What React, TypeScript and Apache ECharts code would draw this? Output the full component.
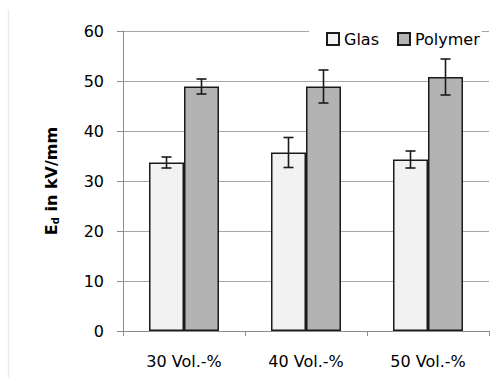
import React, { useEffect, useRef } from "react";
import * as echarts from "echarts";

const categories = ["30 Vol.-%", "40 Vol.-%", "50 Vol.-%"];
const seriesNames = ["Glas", "Polymer"];
const glasValues = [33.7, 35.7, 34.3];
const glasErrors = [1.1, 3.0, 1.7];
const polymerValues = [48.9, 48.9, 50.8];
const polymerErrors = [1.5, 3.3, 3.6];
const yTicks = [0, 10, 20, 30, 40, 50, 60];

const FONT = "'DejaVu Sans', sans-serif";
const BAR_W = 35;

function errorSeries(values: number[], errors: number[], offset: number) {
  return {
    type: "custom",
    silent: true,
    z: 10,
    data: values.map((v, i) => [i, v - errors[i], v + errors[i]]),
    renderItem: (params: any, api: any) => {
      const x = api.value(0);
      const lo = api.coord([x, api.value(1)]);
      const hi = api.coord([x, api.value(2)]);
      const cx = lo[0] + offset;
      const hw = 5;
      const style = { stroke: "#1a1a1a", lineWidth: 1.6 };
      return {
        type: "group",
        children: [
          { type: "line", shape: { x1: cx, y1: lo[1], x2: cx, y2: hi[1] }, style },
          { type: "line", shape: { x1: cx - hw, y1: lo[1], x2: cx + hw, y2: lo[1] }, style },
          { type: "line", shape: { x1: cx - hw, y1: hi[1], x2: cx + hw, y2: hi[1] }, style },
        ],
      };
    },
  };
}

export default function App() {
  const ref = useRef<HTMLDivElement>(null);
  useEffect(() => {
    if (!ref.current) return;
    const chart = echarts.init(ref.current, undefined, { renderer: "svg" });
    chart.setOption({
      animation: false,
      backgroundColor: "#ffffff",
      textStyle: { fontFamily: FONT },
      grid: { left: 123, right: 1, top: 31, bottom: 47 },
      legend: {
        data: seriesNames,
        left: 309,
        top: 28,
        padding: [3, 2, 3, 17],
        backgroundColor: "#ffffff",
        itemWidth: 12,
        itemHeight: 12,
        itemGap: 18,
        icon: "rect",
        textStyle: { fontSize: 16, color: "#000", fontFamily: FONT, padding: [0, 0, 0, 0] },
        z: 20,
      },
      xAxis: {
        type: "category",
        data: categories,
        axisLine: { lineStyle: { color: "#8c8c8c", width: 1 } },
        axisTick: { show: true, alignWithLabel: false, length: 5, lineStyle: { color: "#8c8c8c" } },
        axisLabel: { fontSize: 16, color: "#000", margin: 22, fontFamily: FONT },
      },
      yAxis: {
        type: "value",
        min: 0,
        max: 60,
        interval: 10,
        axisLine: { show: true, lineStyle: { color: "#8c8c8c", width: 1 } },
        axisTick: { show: true, length: 6, lineStyle: { color: "#8c8c8c" } },
        splitLine: { lineStyle: { color: "#a6a6a6", width: 1 } },
        axisLabel: {
          fontSize: 16,
          color: "#000",
          margin: 19,
          fontFamily: FONT,
          formatter: (v: number) => (yTicks.includes(v) ? String(v) : ""),
        },
        name: "{e|E}{d|d}{e| in kV/mm}",
        nameLocation: "middle",
        nameGap: 63,
        nameRotate: 90,
        nameTextStyle: {
          rich: {
            e: { fontSize: 16, fontWeight: "bold", color: "#000", fontFamily: FONT },
            d: { fontSize: 10, fontWeight: "bold", color: "#000", fontFamily: FONT, verticalAlign: "bottom", padding: [8, 0, 0, 0] },
          },
        },
      },
      series: [
        {
          name: seriesNames[0],
          type: "bar",
          data: glasValues,
          barWidth: BAR_W,
          barGap: "0%",
          itemStyle: { color: "#f2f2f2", borderColor: "#1a1a1a", borderWidth: 1.5 },
        },
        {
          name: seriesNames[1],
          type: "bar",
          data: polymerValues,
          barWidth: BAR_W,
          barGap: "0%",
          itemStyle: { color: "#b3b3b3", borderColor: "#1a1a1a", borderWidth: 1.5 },
        },
        errorSeries(glasValues, glasErrors, -BAR_W / 2),
        errorSeries(polymerValues, polymerErrors, BAR_W / 2),
      ],
      graphic: [
        {
          type: "line",
          shape: { x1: 8.5, y1: 10, x2: 8.5, y2: 378 },
          style: { stroke: "#ececec", lineWidth: 1.5 },
        },
      ],
    });
    return () => chart.dispose();
  }, []);
  return <div ref={ref} style={{ width: 490, height: 378, position: "absolute", left: 0, top: 0 }} />;
}
